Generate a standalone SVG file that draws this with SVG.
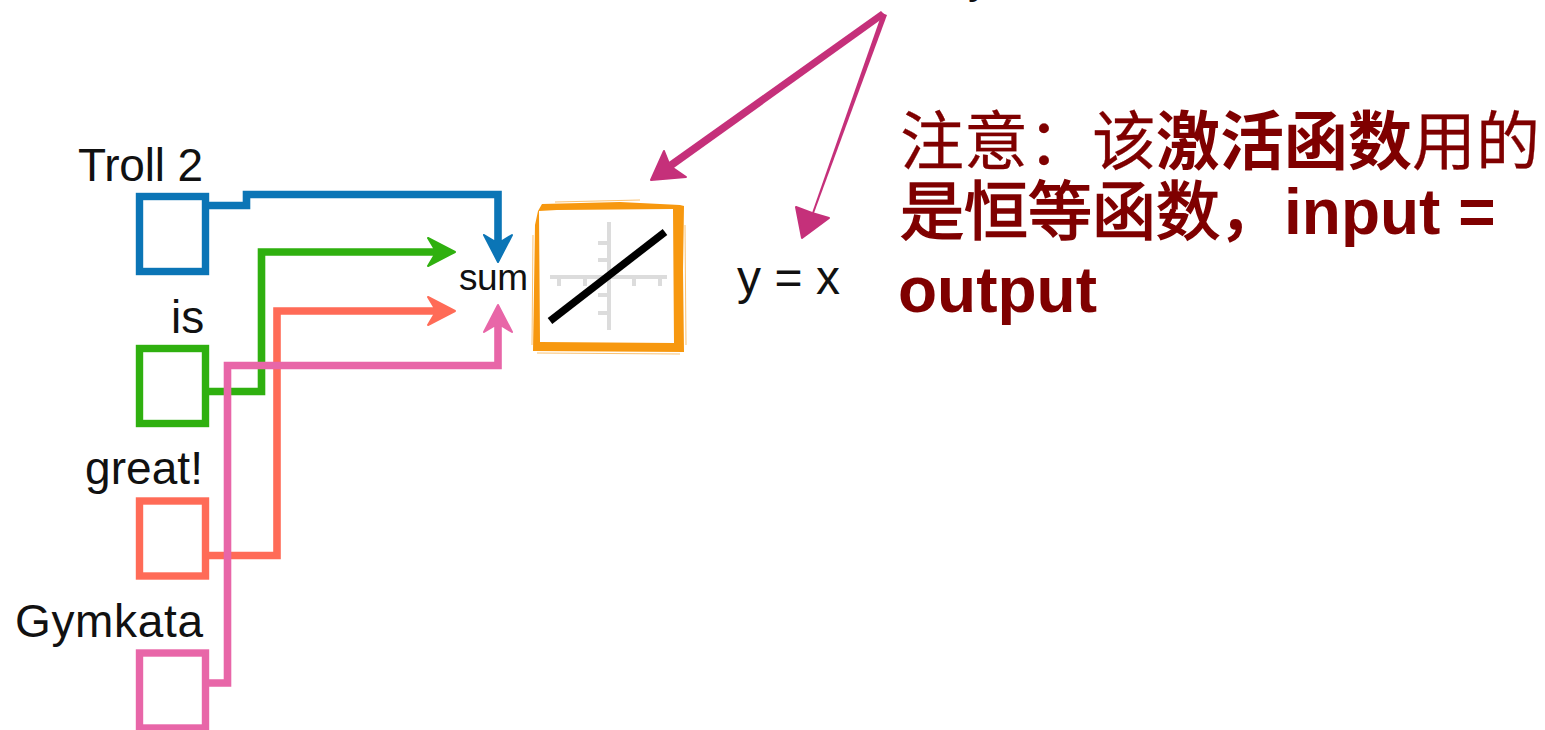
<svg xmlns="http://www.w3.org/2000/svg" width="1545" height="730" viewBox="0 0 1545 730">
<style>
.lbl{font-family:"Liberation Sans",Arial,sans-serif;font-size:46px;fill:#111}
.note{font-family:"Liberation Sans","Noto Sans CJK SC",sans-serif;font-size:64px;fill:#7f0000;stroke:#7f0000;stroke-width:.3}
.b{font-weight:bold;stroke-width:0}
.m{stroke-width:1.7}
.lat{font-weight:bold;stroke-width:0}
.box{fill:#fff;stroke-width:7.4}
.w{fill:none;stroke-width:7.6;stroke-linejoin:miter}
.head{stroke-width:2;stroke-linejoin:round}
</style>
<rect width="1545" height="730" fill="#fff"/>
<g id="node-troll2"><rect class="box" stroke="#0b75b6" x="139.500" y="196.500" width="66" height="75"/><text class="lbl" x="78" y="181" textLength="125">Troll 2</text></g>
<g id="node-is"><rect class="box" stroke="#2fb00f" x="139.500" y="348.500" width="66" height="75"/><text class="lbl" x="171" y="333">is</text></g>
<g id="node-great"><rect class="box" stroke="#ff6b57" x="139.500" y="501" width="66" height="75"/><text class="lbl" x="85" y="484" textLength="118">great!</text></g>
<g id="node-gymkata"><rect class="box" stroke="#e866a8" x="139.500" y="653" width="66" height="75"/><text class="lbl" x="15" y="637" textLength="188">Gymkata</text></g>
<g id="connectors">
<path class="w" stroke="#0b75b6" d="M209 205.500H246.500V194.500H498V240"/>
<polygon class="head" fill="#0b75b6" stroke="#0b75b6" points="484,235 494,241 502,241 512,235 498,262"/>
<path class="w" stroke="#2fb00f" d="M209 391.500H261.500V252H438"/>
<polygon class="head" fill="#2fb00f" stroke="#2fb00f" points="428,238 434,248 434,256 428,266 455,252"/>
<path class="w" stroke="#ff6b57" d="M209 555.500H277V311H438"/>
<polygon class="head" fill="#ff6b57" stroke="#ff6b57" points="428,297 434,307 434,315 428,325 455,311"/>
<path class="w" stroke="#e866a8" d="M209 683H227.500V365.500H498V325"/>
<polygon class="head" fill="#e866a8" stroke="#e866a8" points="498,305 512,332 502,326 494,326 484,332"/>
<polygon fill="#c5307a" points="881,11 886,16 671,170 666,164"/>
<polygon class="head" fill="#c5307a" stroke="#c5307a" points="651,180 664,151 670,166 686,177"/>
<polygon fill="#c5307a" points="882,13 887,15 814,213 812,213"/>
<polygon class="head" fill="#c5307a" stroke="#c5307a" points="796,207 812,213 829,218 802,238"/>
</g>
<g id="node-sum"><text class="lbl" x="459" y="290" textLength="69" style="font-size:37px">sum</text></g>
<g id="node-activation">
<path fill="#f7980f" fill-rule="evenodd" d="M542 204L620 202L680 205L684 206L683 270L684 352L533 351L534 290L535 225L538 211ZM557 210L539 211L540 342L674 343L673 209Z"/>
<path fill="none" stroke="#f7980f" stroke-width="1" stroke-opacity=".6" d="M533 235L532 345M685 225L686 345M555 202L640 200M537 353L680 354"/>
<path fill="none" stroke="#dcdcdc" stroke-width="4" d="M550 277H667M609 222V330M559 277v9M585 277v9M634 277v9M660 277v9M598 243h11M598 260h11M598 295h11M598 313h11"/>
<path fill="none" stroke="#000" stroke-width="7.500" d="M550 321L665 232"/>
</g>
<g id="node-yx"><text class="lbl" x="737" y="294" textLength="103" style="font-size:48px">y = x</text></g>
<text class="lbl" x="968" y="-8">y</text>
<g id="note">
<text class="note" x="900" y="164">注意：该<tspan class="b">激活函数</tspan>用的</text>
<text class="note" x="900" y="234"><tspan class="m">是恒等函数，</tspan><tspan class="lat">input =</tspan></text>
<text class="note lat" x="898" y="312">output</text>
</g>
</svg>
